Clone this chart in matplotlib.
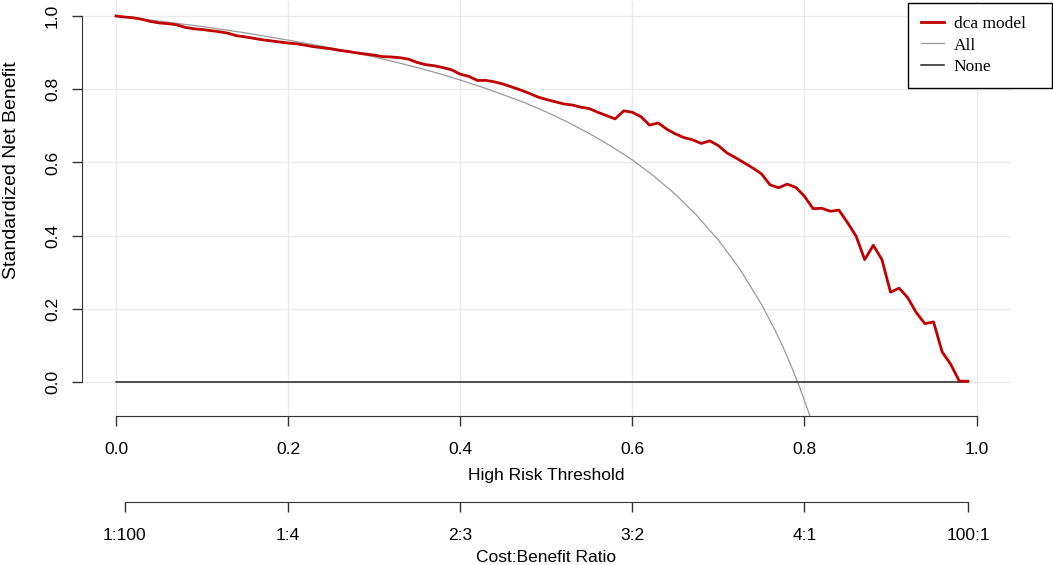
import numpy as np
import matplotlib.pyplot as plt
from matplotlib.lines import Line2D

# decision curve data
thresholds = np.round(np.arange(0, 1.0, 0.01), 2)
model_nb = [1.000, 0.997, 0.995, 0.991, 0.985, 0.981, 0.979, 0.976, 0.969, 0.965,
            0.963, 0.960, 0.957, 0.953, 0.946, 0.943, 0.939, 0.935, 0.932, 0.929,
            0.926, 0.924, 0.920, 0.916, 0.913, 0.910, 0.906, 0.903, 0.899, 0.896,
            0.893, 0.889, 0.888, 0.886, 0.882, 0.873, 0.867, 0.864, 0.859, 0.853,
            0.841, 0.835, 0.824, 0.824, 0.820, 0.814, 0.806, 0.798, 0.789, 0.779,
            0.772, 0.766, 0.760, 0.757, 0.751, 0.747, 0.737, 0.728, 0.719, 0.741,
            0.737, 0.725, 0.702, 0.708, 0.691, 0.678, 0.668, 0.662, 0.652, 0.659,
            0.646, 0.626, 0.613, 0.599, 0.585, 0.569, 0.539, 0.531, 0.541, 0.532,
            0.508, 0.474, 0.475, 0.467, 0.470, 0.436, 0.399, 0.335, 0.374, 0.335,
            0.246, 0.257, 0.231, 0.190, 0.160, 0.165, 0.083, 0.049, 0.003, 0.003]
none_nb = [0.0] * len(thresholds)

all_t = [0.0, 0.05, 0.10, 0.15, 0.20, 0.25, 0.30, 0.325, 0.35, 0.375, 0.40, 0.425,
         0.45, 0.475, 0.50, 0.525, 0.55, 0.575, 0.60, 0.625, 0.65, 0.675, 0.70,
         0.725, 0.75, 0.765, 0.775, 0.785, 0.795, 0.805, 0.815]
all_nb = [1.000, 0.986, 0.971, 0.954, 0.934, 0.913, 0.888, 0.874, 0.859, 0.843,
          0.825, 0.806, 0.785, 0.763, 0.738, 0.710, 0.679, 0.645, 0.607, 0.563,
          0.513, 0.455, 0.388, 0.309, 0.213, 0.146, 0.097, 0.042, -0.017, -0.083,
          -0.155]

x_ticks = [0.0, 0.2, 0.4, 0.6, 0.8, 1.0]
y_ticks = [0.0, 0.2, 0.4, 0.6, 0.8, 1.0]
cb_labels = ["1:100", "1:4", "2:3", "3:2", "4:1", "100:1"]
cb_cost = np.array([1, 1, 2, 3, 4, 100])
cb_benefit = np.array([100, 4, 3, 2, 1, 1])

plt.rcParams['font.family'] = ['Liberation Sans', 'DejaVu Sans']

fig = plt.figure(figsize=(10.53, 5.65), dpi=100)
ax = fig.add_axes([0.0775, 0.2637, 0.8826, 0.7353])
ax.set_xlim(-0.04, 1.04)
ax.set_ylim(-0.092, 1.042)

for v in x_ticks:
    ax.axvline(v, color='#ebebeb', lw=1, zorder=0)
for v in y_ticks:
    ax.axhline(v, color='#ebebeb', lw=1, zorder=0)

ax.plot(all_t, all_nb, color='#9a9a9a', lw=0.9, zorder=2)
ax.plot(thresholds, none_nb, color='#222222', lw=1.1, zorder=2)
ax.plot(thresholds, model_nb, color='#c00000', lw=2.0, zorder=3)

for s in ['top', 'right']:
    ax.spines[s].set_visible(False)
ax.spines['left'].set_bounds(0, 1)
ax.spines['bottom'].set_bounds(0, 1)
ax.spines['left'].set_color('#333333')
ax.spines['bottom'].set_color('#333333')

ax.set_xticks(x_ticks)
ax.set_xticklabels([f"{v:.1f}" for v in x_ticks], fontsize=12.5)
ax.set_yticks(y_ticks)
ax.set_yticklabels([f"{v:.1f}" for v in y_ticks], fontsize=12.5,
                   rotation=90, va='center')
ax.tick_params(axis='both', length=7.5, width=1, color='#333333', direction='out')
ax.tick_params(axis='x', pad=11)
ax.tick_params(axis='y', pad=8)

ax.set_xlabel("High Risk Threshold", fontsize=12.5)
ax.xaxis.set_label_coords(0.5, -0.125)
ax.set_ylabel("Standardized Net Benefit", fontsize=14)
ax.yaxis.set_label_coords(-0.066, 0.592)

# cost:benefit axis
sec = ax.secondary_xaxis(-0.207)
sec.set_xticks(cb_cost / (cb_cost + cb_benefit))
sec.set_xticklabels(cb_labels, fontsize=12.5)
sec.spines['bottom'].set_bounds(cb_cost[0] / (cb_cost[0] + cb_benefit[0]),
                                cb_cost[-1] / (cb_cost[-1] + cb_benefit[-1]))
sec.spines['bottom'].set_color('#333333')
sec.tick_params(length=7.5, width=1, color='#333333', pad=11)
sec.set_xlabel("Cost:Benefit Ratio", fontsize=12.5, labelpad=5)

handles = [Line2D([], [], color='#c00000', lw=2.0),
           Line2D([], [], color='#9a9a9a', lw=0.9),
           Line2D([], [], color='#222222', lw=1.1)]
leg = fig.legend(handles, ["dca model   ", "All", "None"], loc='upper right',
                 bbox_to_anchor=(1052 / 1053, 1 - 3 / 565), borderaxespad=0,
                 prop={'family': 'Liberation Serif', 'size': 12.5},
                 handlelength=1.35, handletextpad=0.55, labelspacing=0.3,
                 borderpad=0.75, fancybox=False, framealpha=1)
leg.get_frame().set_edgecolor('black')
leg.get_frame().set_linewidth(1.0)

fig.savefig("out.png", dpi=100)
